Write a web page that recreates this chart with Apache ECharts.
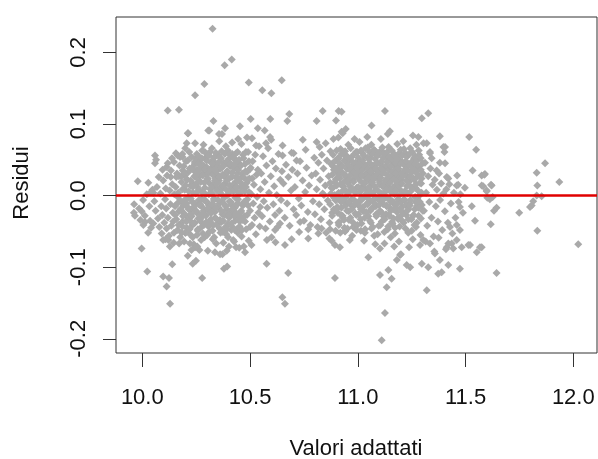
<!DOCTYPE html>
<html>
<head>
<meta charset="utf-8">
<script src="https://cdn.jsdelivr.net/npm/echarts@6/dist/echarts.min.js"></script>
<style>html,body{margin:0;padding:0;background:#fff}#c{width:598px;height:459px}</style>
</head>
<body>
<div id="c"></div>
<script>
var xTicks = [10.0, 10.5, 11.0, 11.5, 12.0];
var yTicks = [-0.2, -0.1, 0.0, 0.1, 0.2];
var xTitle = 'Valori adattati';
var yTitle = 'Residui';

// [fitted value, residual] pairs
var outliers = [
[10.326,0.233],[10.382,0.182],[10.415,0.190],[10.288,0.156],[10.245,0.140],[10.494,0.158],[10.557,0.147],[10.599,0.143],[10.647,0.161],
[10.118,0.119],[10.170,0.120],[10.330,0.104],[10.503,0.107],[10.594,0.107],[10.682,0.114],[10.673,0.104],[10.306,0.091],[10.384,0.094],
[10.356,0.086],[10.213,0.087],[10.453,0.097],[10.536,0.094],[10.568,0.091],[10.593,0.082],[10.445,0.079],[10.509,0.080],[10.809,0.104],
[10.837,0.118],[10.911,0.118],[10.899,0.105],[10.925,0.089],[10.809,0.075],[9.979,0.020],[10.028,0.018],[10.059,0.056],[10.059,0.045],
[10.113,0.040],[10.156,0.059],[10.175,0.054],[10.147,0.047],[10.206,0.073],[10.245,0.073],[10.132,0.026],[10.170,0.027],[10.051,0.004],
[10.109,0.010],[10.651,0.070],[10.651,0.056],[10.693,0.060],[10.716,0.049],[10.211,0.087],[10.199,0.066],[10.164,0.056],[10.187,0.054],
[10.064,0.050],[10.133,0.035],[10.040,0.005],[10.311,0.091],[10.370,0.086]
];
var outliersRight = [
[10.925,0.117],[11.126,0.118],[11.327,0.115],[11.297,0.108],[11.064,0.098],[11.149,0.090],[10.930,0.087],[11.281,0.082],[11.381,0.083],
[11.517,0.082],[11.549,0.064],[11.533,0.035],[11.587,0.029],[11.618,0.015],[11.575,0.014],[11.598,0.007],[11.466,0.015],[11.459,0.014],
[11.405,0.068],[11.402,0.061],[11.335,0.061],[11.320,0.073],[11.343,0.052],[11.381,0.046],[11.405,0.045],[11.413,0.026],[11.366,0.035],
[11.305,0.073],[11.397,0.068],[11.420,0.024],[11.575,0.028],
[11.590,0.030],[11.582,0.013],[11.598,0.006],[11.621,0.014],[11.601,-0.003],[11.626,-0.002],[11.613,-0.005],[11.644,-0.017],[11.632,-0.021],
[11.617,-0.040],[11.575,-0.072],[11.644,-0.108],[11.830,0.032],[11.869,0.045],[11.833,0.014],[11.935,0.019],[11.830,0.000],[11.853,-0.001],
[11.814,-0.008],[11.807,-0.014],[11.799,-0.016],[11.749,-0.024],[11.833,-0.049],[12.023,-0.068]
];
var outliersLow = [
[9.997,-0.074],[10.023,-0.106],[10.097,-0.113],[10.124,-0.115],[10.113,-0.127],[10.129,-0.151],[10.139,-0.096],[10.234,-0.095],[10.249,-0.091],
[10.278,-0.115],[10.379,-0.102],[10.394,-0.099],[10.577,-0.095],[10.677,-0.108],[10.650,-0.142],[10.662,-0.151],[10.894,-0.115],
[9.961,-0.024],[9.966,-0.028],[9.997,-0.022],[10.013,-0.037],[10.005,-0.041],[10.036,-0.035],[10.051,-0.039],[10.090,-0.053],[10.097,-0.062],
[10.121,-0.062],[10.113,-0.046],[10.147,-0.052],[10.221,-0.067],[10.245,-0.072],[10.265,-0.076],[10.337,-0.079],[10.361,-0.082],[10.392,-0.077],
[10.422,-0.062],[10.435,-0.072],[10.450,-0.073],[10.477,-0.079],[10.662,-0.069],[10.693,-0.061],[10.616,-0.048],[10.639,-0.039],[10.732,-0.037],
[10.770,-0.047],[10.770,-0.060],[10.817,-0.053],[10.832,-0.046],[10.868,-0.060],[10.894,-0.069],[10.871,-0.047],[10.941,-0.049],[10.910,-0.038],
[10.941,-0.050],[10.979,-0.044],[10.917,-0.072],[11.111,-0.202],[11.126,-0.164],
[11.474,-0.016],[11.529,-0.015],[11.544,-0.035],[11.567,-0.072],[11.552,-0.079],[11.459,-0.041],[11.474,-0.048],[11.428,-0.044],[11.436,-0.067],
[11.413,-0.072],[11.459,-0.062],[11.482,-0.072],[11.521,-0.069],[11.358,-0.081],[11.381,-0.090],[11.420,-0.097],[11.474,-0.102],[11.373,-0.109],
[11.389,-0.107],[11.327,-0.100],[11.297,-0.095],[11.243,-0.100],[11.227,-0.097],[11.181,-0.090],[11.196,-0.083],[11.142,-0.104],[11.103,-0.111],
[11.157,-0.116],[11.134,-0.128],[11.320,-0.132],[11.049,-0.086],[11.103,-0.074],[11.064,-0.046],[11.304,-0.062],[11.335,-0.067],[11.409,-0.075],
[11.443,-0.074],[11.420,-0.067],[11.513,-0.069],[11.200,-0.082]
];
var clusterLeft = [
[9.962,-0.012],[9.985,-0.018],[10.004,-0.006],[10.012,-0.028],[10.021,0.002],[10.033,-0.015],[10.041,-0.045],[10.047,0.008],[9.991,-0.034],[10.027,-0.052],
[10.056,-0.008],[10.062,-0.021],[10.068,0.012],[10.073,-0.032],[10.079,-0.044],[10.084,0.003],[10.088,-0.015],[10.093,-0.027],[10.097,0.021],[10.102,-0.038],
[10.106,-0.005],[10.111,-0.018],[10.115,0.028],[10.119,-0.031],[10.124,-0.056],[10.127,0.007],[10.131,-0.012],[10.135,-0.042],[10.139,0.016],[10.142,-0.024],
[10.146,-0.066],[10.149,0.002],[10.118,0.045],[10.138,0.052],[10.094,0.036],[10.076,0.026],[10.128,-0.071],[10.108,-0.061],[10.143,-0.036],
[10.152,-0.015],[10.155,0.012],[10.158,-0.033],[10.161,0.031],[10.164,-0.048],[10.167,0.004],[10.170,-0.022],[10.173,0.042],[10.176,-0.058],[10.179,-0.008],
[10.182,0.019],[10.185,-0.037],[10.188,0.035],[10.191,-0.014],[10.194,-0.064],[10.197,0.008],[10.200,-0.027],[10.203,0.048],[10.206,-0.045],[10.209,0.022],
[10.212,-0.003],[10.215,-0.031],[10.218,0.061],[10.221,-0.054],[10.224,0.014],[10.227,-0.019],[10.230,0.039],[10.233,-0.041],[10.236,0.004],[10.239,-0.068],
[10.242,0.027],[10.245,-0.011],[10.248,0.052],[10.158,0.026],[10.171,-0.067],[10.186,0.058],[10.199,-0.052],[10.214,0.033],[10.228,-0.076],[10.243,0.044],
[10.165,-0.002],[10.196,0.028],[10.225,-0.036],[10.238,0.016],[10.211,-0.084],
[10.251,-0.022],[10.253,0.036],[10.256,0.012],[10.258,-0.047],[10.261,0.055],[10.263,-0.006],[10.266,0.027],[10.268,-0.033],[10.271,0.044],[10.273,-0.062],
[10.276,0.005],[10.278,0.063],[10.281,-0.017],[10.283,0.031],[10.286,-0.041],[10.288,0.018],[10.291,0.052],[10.293,-0.027],[10.296,-0.008],[10.298,0.040],
[10.301,-0.055],[10.303,0.023],[10.306,0.058],[10.308,-0.013],[10.311,0.034],[10.313,-0.037],[10.316,0.009],[10.318,0.047],[10.321,-0.024],[10.323,0.066],
[10.326,-0.049],[10.328,0.015],[10.331,0.038],[10.333,-0.004],[10.336,0.054],[10.338,-0.031],[10.341,0.024],[10.343,-0.067],[10.346,0.043],[10.348,-0.016],
[10.255,-0.071],[10.265,0.048],[10.274,-0.026],[10.284,0.071],[10.294,0.002],[10.304,-0.077],[10.314,0.061],[10.324,0.003],[10.334,-0.058],[10.344,0.011],
[10.259,0.019],[10.279,0.039],[10.299,0.029],[10.319,0.032],[10.339,0.045],[10.289,-0.058],[10.309,-0.043],[10.329,-0.019],[10.349,0.029],[10.262,-0.012],
[10.351,-0.039],[10.353,0.056],[10.356,0.021],[10.358,-0.011],[10.361,0.037],[10.363,-0.052],[10.366,0.008],[10.368,0.062],[10.371,-0.026],[10.373,0.029],
[10.376,-0.066],[10.378,0.046],[10.381,-0.003],[10.383,0.017],[10.386,-0.044],[10.388,0.069],[10.391,-0.019],[10.393,0.034],[10.396,0.001],[10.398,-0.058],
[10.401,0.051],[10.403,-0.031],[10.406,0.014],[10.408,0.041],[10.411,-0.009],[10.413,-0.048],[10.416,0.026],[10.418,0.058],[10.421,-0.021],[10.423,0.006],
[10.426,-0.064],[10.428,0.038],[10.431,-0.035],[10.433,0.019],[10.436,0.047],[10.438,-0.012],[10.441,0.031],[10.443,-0.052],[10.446,0.004],[10.448,0.022],
[10.357,0.076],[10.372,-0.082],[10.387,0.044],[10.402,-0.071],[10.417,0.074],[10.432,-0.003],[10.447,-0.028],[10.362,0.011],[10.382,0.028],[10.397,0.063],
[10.412,0.009],[10.427,0.052],[10.442,0.061],[10.367,-0.037],[10.392,-0.047],[10.407,-0.024],
[10.452,-0.036],[10.455,0.043],[10.458,0.011],[10.461,-0.057],[10.464,0.027],[10.467,-0.014],[10.470,0.052],[10.473,-0.029],[10.476,0.006],[10.479,0.034],
[10.482,-0.047],[10.485,0.018],[10.488,-0.005],[10.491,0.061],[10.494,-0.063],[10.497,0.024],[10.500,-0.021],[10.503,0.039],[10.506,0.002],[10.509,-0.041],
[10.512,0.048],[10.515,-0.011],[10.518,0.015],[10.521,-0.031],[10.524,0.057],[10.527,-0.054],[10.530,0.029],[10.533,-0.002],[10.536,0.036],[10.539,-0.024],
[10.542,0.069],[10.545,-0.043],[10.548,0.009],[10.460,0.072],[10.486,0.081],[10.507,-0.069],[10.528,0.070],[10.547,-0.016],[10.471,-0.071],[10.510,0.024],
[10.552,0.031],[10.556,-0.029],[10.560,0.055],[10.564,-0.008],[10.568,0.019],[10.572,-0.046],[10.576,0.042],[10.580,-0.017],[10.584,0.066],[10.588,0.004],
[10.592,-0.036],[10.596,0.027],[10.600,-0.058],[10.604,0.048],[10.608,-0.012],[10.612,0.013],[10.616,-0.027],[10.620,0.038],[10.624,0.001],[10.628,-0.044],
[10.632,0.058],[10.636,-0.021],[10.640,0.022],[10.644,-0.006],[10.648,0.034],[10.574,0.073],[10.598,0.078],[10.618,-0.065],[10.578,-0.062]
];
var coreLeft = [
[10.182,-0.021],[10.182,0.027],[10.187,0.009],[10.187,-0.043],[10.192,-0.008],[10.192,0.041],[10.196,0.032],[10.196,-0.026],[10.201,-0.052],[10.201,0.014],
[10.206,0.023],[10.206,-0.011],[10.211,-0.034],[10.211,0.049],[10.215,0.006],[10.215,-0.019],[10.220,0.038],[10.220,-0.046],[10.225,-0.004],[10.225,0.021],
[10.229,0.054],[10.229,-0.029],[10.234,0.012],[10.234,-0.058],[10.239,-0.016],[10.239,0.035],[10.243,0.047],[10.243,-0.038],[10.248,0.003],[10.248,0.026],
[10.253,-0.024],[10.253,0.058],[10.257,0.031],[10.257,-0.049],[10.262,0.044],[10.262,0.008],[10.267,-0.013],[10.267,0.036],[10.271,0.019],[10.271,-0.036],
[10.276,0.052],[10.276,-0.005],[10.281,0.028],[10.281,-0.053],[10.285,-0.021],[10.285,0.042],[10.290,0.011],[10.290,0.061],[10.295,0.037],[10.295,-0.028],
[10.299,-0.009],[10.299,0.049],[10.304,0.024],[10.304,-0.042],[10.309,0.056],[10.309,0.002],[10.313,0.017],[10.313,-0.016],[10.318,-0.033],[10.318,0.038],
[10.323,0.045],[10.323,0.012],[10.327,0.029],[10.327,-0.061],[10.332,-0.006],[10.332,0.053],[10.337,0.021],[10.337,-0.023],[10.341,0.060],[10.341,0.034],
[10.346,-0.041],[10.346,0.007],[10.351,0.041],[10.351,0.018],[10.355,-0.017],[10.355,0.047],[10.360,0.026],[10.360,-0.034],[10.365,0.052],[10.365,0.003],
[10.369,-0.008],[10.369,0.039],[10.374,0.014],[10.374,-0.051],[10.379,0.043],[10.379,0.027],[10.383,-0.027],[10.383,0.058],[10.388,0.009],[10.388,-0.015],
[10.393,0.048],[10.393,0.021],[10.397,-0.039],[10.397,0.033],[10.402,0.024],[10.402,0.004],[10.407,0.057],[10.407,-0.022],[10.411,-0.012],[10.411,0.044],
[10.416,0.032],[10.416,-0.043],[10.421,0.015],[10.421,0.053],[10.425,-0.028],[10.425,0.008],[10.430,0.041],[10.430,-0.017],[10.435,0.026],[10.435,0.059],
[10.439,-0.047],[10.439,0.012],[10.444,0.036],[10.444,-0.005],[10.449,0.050],[10.449,-0.031],[10.453,0.019],[10.453,0.003],[10.458,-0.023],[10.458,0.042],
[10.463,0.031],[10.463,-0.048],[10.467,0.057],[10.467,0.014],[10.472,-0.009],[10.472,0.025],[10.477,0.044],[10.477,-0.036],[10.481,0.012],[10.481,0.061],
[10.486,-0.027],[10.486,0.033],[10.491,0.022],[10.491,-0.014],[10.495,0.048],[10.495,0.005],[10.500,-0.044],[10.500,0.037]
];
var coreLeftLow = [
[10.153,-0.027],[10.162,-0.011],[10.168,-0.041],[10.177,-0.019],[10.183,-0.052],[10.189,-0.029],[10.198,-0.006],[10.204,-0.036],[10.213,-0.017],[10.219,-0.047],
[10.226,-0.026],[10.232,-0.009],[10.241,-0.039],[10.247,-0.021],[10.254,-0.055],[10.260,-0.032],[10.269,-0.012],[10.275,-0.044],[10.282,-0.028],[10.287,-0.006],
[10.297,-0.037],[10.302,-0.019],[10.310,-0.051],[10.317,-0.024],[10.325,-0.011],[10.330,-0.041],[10.339,-0.017],[10.345,-0.033],[10.352,-0.006],[10.359,-0.046],
[10.368,-0.022],[10.375,-0.035],[10.384,-0.013],[10.390,-0.054],[10.399,-0.027],[10.405,-0.008],[10.414,-0.039],[10.422,-0.018],[10.429,-0.048],[10.437,-0.025],
[10.445,-0.011],[10.451,-0.043],[10.459,-0.021],[10.466,-0.034],[10.478,-0.008]
];
var clusterMiddle = [
[10.655,0.017],[10.661,-0.031],[10.667,0.043],[10.672,-0.011],[10.678,0.026],[10.684,-0.042],[10.690,0.007],[10.696,0.036],[10.702,-0.019],[10.708,0.012],
[10.714,-0.027],[10.720,0.031],[10.726,-0.004],[10.732,0.048],[10.738,-0.014],[10.744,0.021],[10.750,-0.035],[10.756,0.005],[10.762,0.039],[10.768,-0.023],
[10.774,0.014],[10.780,-0.041],[10.786,0.028],[10.792,-0.008],[10.798,0.053],[10.702,0.059],[10.728,-0.051],[10.758,0.064],[10.745,0.078],
[10.801,-0.026],[10.805,0.031],[10.809,0.009],[10.813,-0.044],[10.817,0.046],[10.821,-0.012],[10.825,0.022],[10.829,-0.033],[10.833,0.057],[10.837,0.003],
[10.841,0.038],[10.845,-0.019],[10.849,0.014],[10.853,-0.052],[10.857,0.049],[10.861,-0.007],[10.865,0.027],[10.869,-0.038],[10.873,0.062],[10.877,0.011],
[10.881,-0.024],[10.885,0.041],[10.889,-0.003],[10.893,0.019],[10.897,-0.049],[10.823,0.068],[10.851,0.073],[10.879,-0.063],[10.887,0.079],[10.843,0.001]
];
var clusterRight = [
[10.902,0.033],[10.905,-0.016],[10.908,0.052],[10.911,0.004],[10.914,-0.037],[10.917,0.024],[10.920,0.065],[10.923,-0.009],[10.926,0.041],[10.929,-0.028],
[10.932,0.013],[10.935,0.057],[10.938,-0.045],[10.941,0.029],[10.944,-0.002],[10.947,0.047],[10.950,-0.021],[10.953,0.018],[10.956,0.071],[10.959,-0.034],
[10.962,0.036],[10.965,0.007],[10.968,-0.013],[10.971,0.054],[10.974,-0.056],[10.977,0.022],[10.980,0.043],[10.983,-0.006],[10.986,0.031],[10.989,-0.025],
[10.992,0.061],[10.995,0.011],[10.998,-0.041],[10.910,0.081],[10.944,0.093],[10.963,-0.062],[10.985,0.079],[10.919,-0.052],
[11.001,0.026],[11.004,-0.014],[11.007,0.048],[11.010,0.005],[11.013,-0.033],[11.016,0.037],[11.019,-0.002],[11.022,0.059],[11.025,-0.022],[11.028,0.017],
[11.031,0.043],[11.034,-0.047],[11.037,0.009],[11.040,0.031],[11.043,-0.011],[11.046,0.067],[11.049,-0.029],[11.052,0.021],[11.055,0.002],[11.058,0.052],
[11.061,-0.038],[11.064,0.014],[11.067,0.039],[11.070,-0.017],[11.073,0.028],[11.076,-0.056],[11.079,0.063],[11.082,0.007],[11.085,-0.026],[11.088,0.045],
[11.091,-0.004],[11.094,0.024],[11.097,-0.042],[11.008,0.075],[11.029,-0.063],[11.044,0.082],[11.063,0.071],[11.081,-0.068],[11.098,0.057],[11.018,0.012],
[11.053,-0.009],[11.072,0.001],[11.089,0.034],[11.036,0.025],[11.014,-0.049],
[11.101,0.019],[11.103,-0.021],[11.106,0.044],[11.108,0.003],[11.111,-0.036],[11.113,0.031],[11.116,0.061],[11.118,-0.012],[11.121,0.014],[11.123,-0.051],
[11.126,0.038],[11.128,0.006],[11.131,-0.026],[11.133,0.054],[11.136,-0.003],[11.138,0.024],[11.141,-0.043],[11.143,0.068],[11.146,0.011],[11.148,-0.017],
[11.151,0.035],[11.153,-0.058],[11.156,0.021],[11.158,0.047],[11.161,-0.008],[11.163,0.029],[11.166,-0.032],[11.168,0.058],[11.171,0.002],[11.173,-0.045],
[11.176,0.039],[11.178,0.015],[11.181,-0.023],[11.183,0.072],[11.186,-0.005],[11.188,0.026],[11.191,-0.064],[11.193,0.049],[11.196,0.008],[11.198,-0.029],
[11.107,0.079],[11.124,-0.067],[11.139,0.086],[11.154,0.005],[11.169,-0.071],[11.184,0.042],[11.199,0.064],[11.114,-0.002],[11.131,0.017],[11.146,0.052],
[11.161,-0.039],[11.176,0.012],[11.191,0.033],[11.119,0.036],[11.144,-0.027],[11.164,0.044],
[11.201,0.022],[11.204,-0.016],[11.207,0.047],[11.210,0.004],[11.213,-0.038],[11.216,0.033],[11.219,-0.007],[11.222,0.059],[11.225,-0.027],[11.228,0.013],
[11.231,0.041],[11.234,-0.052],[11.237,0.019],[11.240,-0.011],[11.243,0.066],[11.246,0.006],[11.249,-0.033],[11.252,0.036],[11.255,-0.061],[11.258,0.024],
[11.261,0.052],[11.264,-0.019],[11.267,0.011],[11.270,-0.044],[11.273,0.038],[11.276,-0.004],[11.279,0.029],[11.282,-0.028],[11.285,0.057],[11.288,0.001],
[11.291,-0.055],[11.294,0.017],[11.297,-0.013],[11.211,0.076],[11.238,-0.072],[11.256,0.084],[11.272,0.071],[11.289,-0.069],[11.226,0.028],[11.263,-0.041],
[11.302,0.031],[11.307,-0.021],[11.312,0.046],[11.317,0.004],[11.322,-0.042],[11.327,0.027],[11.332,-0.009],[11.337,0.038],[11.342,-0.031],[11.347,0.015],
[11.352,-0.057],[11.357,0.022],[11.362,-0.015],[11.367,0.008],[11.372,-0.036],[11.377,0.031],[11.382,-0.006],[11.387,0.017],[11.392,-0.048],[11.397,0.003],
[11.315,-0.064],[11.335,0.059],[11.355,-0.078],[11.375,-0.059],
[11.404,-0.022],[11.411,0.009],[11.418,-0.038],[11.425,0.016],[11.432,-0.011],[11.439,-0.053],[11.446,0.004],[11.453,-0.031],[11.461,0.028],[11.468,-0.009],
[11.476,0.002],[11.488,-0.024],[11.497,0.011]
];
var coreRight = [
[10.872,0.018],[10.872,-0.012],[10.876,0.044],[10.876,0.003],[10.881,0.029],[10.881,-0.028],[10.885,0.057],[10.885,0.011],[10.889,-0.019],[10.889,0.036],
[10.893,0.048],[10.893,0.001],[10.898,0.023],[10.898,-0.007],[10.902,0.063],[10.902,0.014],[10.906,0.039],[10.906,-0.024],[10.911,0.027],[10.911,0.052],
[10.915,-0.003],[10.915,0.045],[10.919,0.016],[10.919,0.034],[10.924,0.058],[10.924,-0.017],[10.928,0.006],[10.928,0.041],[10.932,0.031],[10.932,-0.031],
[10.937,0.049],[10.937,0.019],[10.941,0.062],[10.941,0.008],[10.945,-0.011],[10.945,0.026],[10.950,0.037],[10.950,0.055],[10.954,0.003],[10.954,0.043],
[10.958,0.022],[10.958,-0.022],[10.963,0.051],[10.963,0.013],[10.967,0.066],[10.967,0.029],[10.971,-0.005],[10.971,0.038],[10.976,0.047],[10.976,0.009],
[10.980,0.019],[10.980,-0.015],[10.984,0.058],[10.984,0.033],[10.989,0.004],[10.989,0.046],[10.993,0.027],[10.993,-0.027],[10.997,0.039],[10.997,0.061],
[11.002,0.012],[11.002,0.053],[11.006,-0.008],[11.006,0.033],[11.010,0.044],[11.010,0.021],[11.015,0.063],[11.015,-0.019],[11.019,0.028],[11.019,0.008],
[11.023,0.049],[11.023,0.036],[11.028,-0.003],[11.028,0.056],[11.032,0.017],[11.032,-0.031],[11.036,0.041],[11.036,0.066],[11.041,0.024],[11.041,0.003],
[11.045,0.053],[11.045,-0.012],[11.049,0.011],[11.049,0.037],[11.054,0.046],[11.054,0.061],[11.058,-0.021],[11.058,0.027],[11.062,0.034],[11.062,0.005],
[11.067,0.058],[11.067,0.018],[11.071,0.042],[11.071,-0.006],[11.075,0.023],[11.075,0.064],[11.080,0.051],[11.080,0.012],[11.084,-0.015],[11.084,0.038],
[11.088,0.029],[11.088,0.056],[11.093,0.007],[11.093,0.045],[11.097,0.035],[11.097,-0.024],[11.101,0.061],[11.101,0.016],[11.106,0.025],[11.106,-0.008],
[11.110,0.048],[11.110,0.039],[11.114,0.013],[11.114,0.067],[11.119,-0.029],[11.119,0.053],[11.123,0.032],[11.123,0.004],[11.127,0.057],[11.127,0.021],
[11.132,0.042],[11.132,-0.014],[11.136,0.009],[11.136,0.047],[11.140,0.028],[11.140,0.062],[11.145,-0.004],[11.145,0.036],[11.149,0.054],[11.149,0.018],
[11.153,0.041],[11.153,-0.021],[11.158,0.026],[11.158,0.063],[11.162,0.011],[11.162,0.051],[11.166,0.034],[11.166,-0.011],[11.171,0.057],[11.171,0.023],
[11.175,-0.017],[11.175,0.046],[11.179,0.031],[11.179,0.007],[11.184,0.052],[11.184,0.019],[11.188,0.038],[11.188,-0.033],[11.192,0.014],[11.192,0.059],
[11.197,0.044],[11.197,0.002],[11.201,-0.009],[11.201,0.031],[11.205,0.056],[11.205,0.017],[11.210,0.027],[11.210,-0.024],[11.214,0.043],[11.214,0.065],
[11.218,0.006],[11.218,0.036],[11.223,0.048],[11.223,-0.013],[11.227,0.021],[11.227,0.054],[11.231,0.035],[11.231,0.003],[11.236,-0.019],[11.236,0.042],
[11.240,0.058],[11.240,0.014],[11.244,0.026],[11.244,-0.006],[11.249,0.047],[11.249,0.032],[11.253,0.011],[11.253,0.061],[11.257,0.039],[11.257,-0.028],
[11.262,0.022],[11.262,0.044],[11.266,-0.002],[11.266,0.055],[11.270,0.033],[11.270,0.016],[11.275,0.049],[11.275,-0.015],[11.279,0.007],[11.279,0.027],
[11.283,0.041],[11.283,0.063],[11.288,0.018],[11.288,-0.009],[11.292,0.036],[11.292,0.052],[11.296,0.004],[11.296,0.024],[11.301,0.045],[11.301,-0.021]
];
var coreRightLow = [
[10.903,-0.019],[10.912,-0.041],[10.921,-0.027],[10.927,-0.006],[10.936,-0.034],[10.943,-0.014],[10.952,-0.046],[10.957,-0.009],[10.966,-0.031],[10.973,-0.019],
[10.979,-0.038],[10.988,-0.011],[10.994,-0.048],[11.003,-0.026],[11.011,-0.008],[11.017,-0.039],[11.024,-0.016],[11.033,-0.052],[11.039,-0.023],[11.047,-0.004],
[11.056,-0.035],[11.063,-0.018],[11.069,-0.044],[11.078,-0.011],[11.086,-0.029],[11.092,-0.054],[11.099,-0.013],[11.105,-0.041],[11.112,-0.024],[11.117,-0.006],
[11.125,-0.033],[11.134,-0.015],[11.139,-0.047],[11.147,-0.028],[11.152,-0.009],[11.159,-0.037],[11.167,-0.019],[11.172,-0.053],[11.180,-0.012],[11.187,-0.031],
[11.194,-0.043],[11.199,-0.018],[11.206,-0.035],[11.215,-0.005],[11.221,-0.046],[11.229,-0.021],[11.235,-0.033],[11.242,-0.014],[11.250,-0.049],[11.259,-0.027],
[11.268,-0.009],[11.274,-0.038],[11.281,-0.017],[11.293,-0.032]
];

var allPoints = [].concat(outliers, outliersRight, outliersLow, clusterLeft, coreLeft, coreLeftLow,
  clusterMiddle, clusterRight, coreRight, coreRightLow);

var FONT = '"Liberation Sans", Arial, sans-serif';
var chart = echarts.init(document.getElementById('c'), null, {renderer: 'canvas'});
chart.setOption({
  animation: false,
  backgroundColor: '#ffffff',
  grid: {left: 116, right: 1, top: 17, bottom: 106, show: true, borderColor: '#333', borderWidth: 1, containLabel: false},
  xAxis: {
    type: 'value', min: 9.878, max: 12.11,
    axisLine: {show: false, onZero: false},
    splitLine: {show: false},
    axisTick: {show: true, length: 14, lineStyle: {color: '#333', width: 1}, customValues: xTicks},
    axisLabel: {customValues: xTicks, margin: 34, fontFamily: FONT, fontSize: 22, color: '#111',
      formatter: function (v) { return v.toFixed(1); }}
  },
  yAxis: {
    type: 'value', min: -0.2198, max: 0.2494,
    axisLine: {show: false, onZero: false},
    splitLine: {show: false},
    axisTick: {show: true, length: 13, lineStyle: {color: '#333', width: 1}, customValues: yTicks},
    axisLabel: {customValues: yTicks, rotate: 90, margin: 26, fontFamily: FONT, fontSize: 22, color: '#111',
      formatter: function (v) { return v.toFixed(1); }}
  },
  graphic: [
    {type: 'text', x: 356, y: 449, style: {text: xTitle, font: '22px ' + FONT, fill: '#111', textAlign: 'center', textVerticalAlign: 'middle'}},
    {type: 'text', x: 22, y: 183, rotation: Math.PI / 2, style: {text: yTitle, font: '22px ' + FONT, fill: '#111', textAlign: 'center', textVerticalAlign: 'middle'}}
  ],
  series: [{
    type: 'scatter',
    data: allPoints,
    symbol: 'diamond',
    symbolSize: 8,
    itemStyle: {color: '#A9A9A9', opacity: 1},
    silent: true,
    markLine: {
      silent: true, symbol: 'none', z: 5,
      label: {show: false},
      lineStyle: {color: '#E00000', width: 2.5, type: 'solid'},
      data: [{yAxis: 0}]
    }
  }]
});
</script>
</body>
</html>
